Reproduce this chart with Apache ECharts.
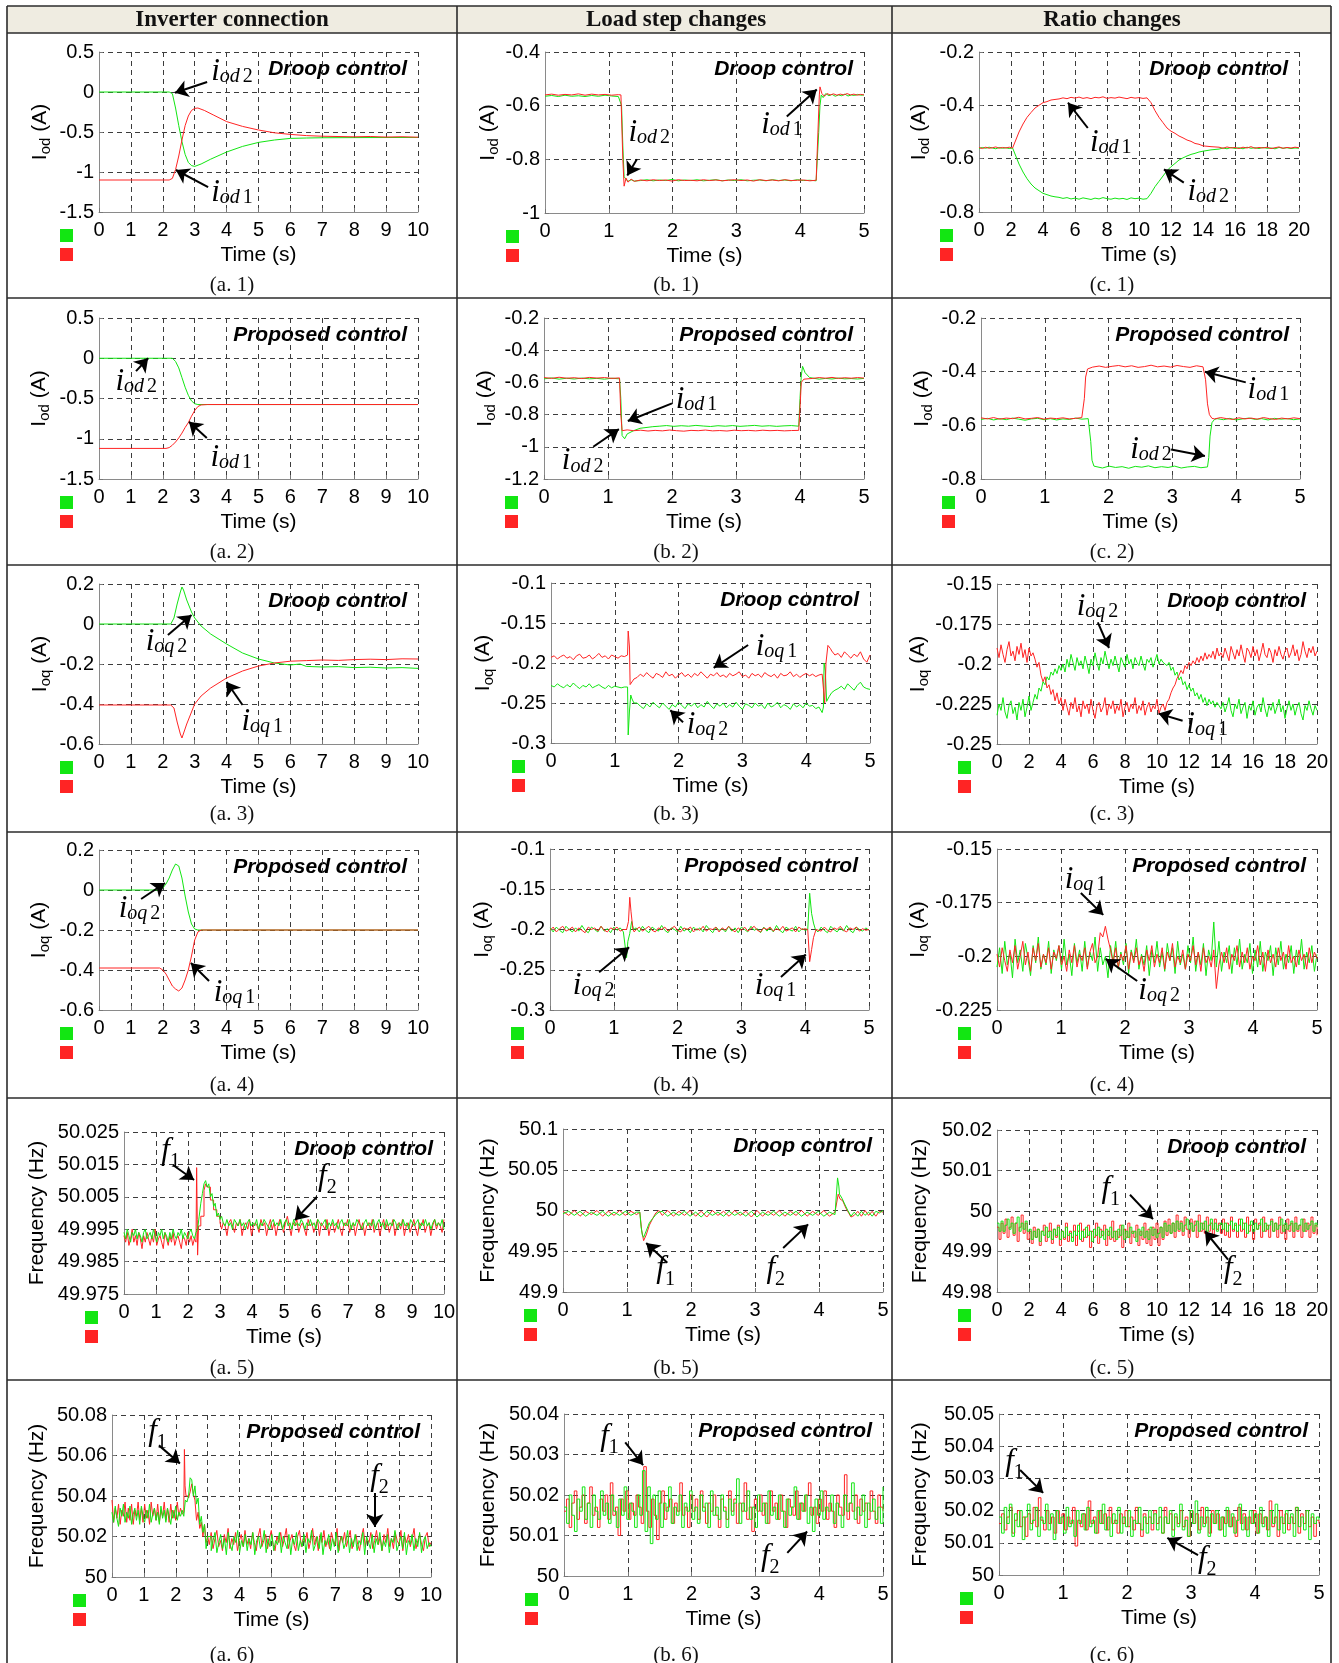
<!DOCTYPE html>
<html>
<head>
<meta charset="utf-8">
<script src="https://cdn.jsdelivr.net/npm/echarts@6/dist/echarts.min.js"></script>
<style>
html,body{margin:0;padding:0;background:#fff}
#chart{width:1339px;height:1663px}
</style>
</head>
<body>
<div id="chart"></div>
<script>
// Spread a run of sampled values evenly over [t0, t1] seconds.
function span(t0, t1, vals) {
  const n = vals.length;
  return vals.map((v, i) => [+(t0 + (t1 - t0) * i / (n - 1)).toFixed(4), v]);
}

// ---------- column / row headings ----------
const COLUMN_TITLES = ['Inverter connection', 'Load step changes', 'Ratio changes'];
const CAPTIONS = [
  ['(a. 1)', '(b. 1)', '(c. 1)'], ['(a. 2)', '(b. 2)', '(c. 2)'], ['(a. 3)', '(b. 3)', '(c. 3)'],
  ['(a. 4)', '(b. 4)', '(c. 4)'], ['(a. 5)', '(b. 5)', '(c. 5)'], ['(a. 6)', '(b. 6)', '(c. 6)']
];

// ---------- axis scales: [min, max, interval] ----------
const X_10 = [0, 10, 1], X_5 = [0, 5, 1], X_20 = [0, 20, 2];
const Y_A1 = [-1.5, 0.5, 0.5], Y_B1 = [-1, -0.4, 0.2], Y_C1 = [-0.8, -0.2, 0.2];
const Y_A2 = [-1.5, 0.5, 0.5], Y_B2 = [-1.2, -0.2, 0.2], Y_C2 = [-0.8, -0.2, 0.2];
const Y_A3 = [-0.6, 0.2, 0.2], Y_B3 = [-0.3, -0.1, 0.05], Y_C3 = [-0.25, -0.15, 0.025];
const Y_A4 = [-0.6, 0.2, 0.2], Y_B4 = [-0.3, -0.1, 0.05], Y_C4 = [-0.225, -0.15, 0.025];
const Y_A5 = [49.975, 50.025, 0.01], Y_B5 = [49.9, 50.1, 0.05], Y_C5 = [49.98, 50.02, 0.01];
const Y_A6 = [50, 50.08, 0.02], Y_B6 = [50, 50.04, 0.01], Y_C6 = [50, 50.05, 0.01];

// ---------- (a.1) inverter connection, droop, i_od ----------
const A1_IOD2 = [[0,0],[1,0],[2.2,0],[2.3,-0.02],[2.4,-0.2],[2.5,-0.42],[2.6,-0.62],[2.7,-0.78],[2.8,-0.88],[2.9,-0.92],[3.0,-0.93],[3.2,-0.9],[3.5,-0.84],[4,-0.75],[4.5,-0.68],[5,-0.63],[5.5,-0.6],[6,-0.58],[6.5,-0.575],[7,-0.572],[8,-0.57],[9,-0.569],[10,-0.568]];
const A1_IOD1 = [[0,-1.1],[2.2,-1.1],[2.3,-1.08],[2.4,-0.97],[2.5,-0.8],[2.6,-0.6],[2.7,-0.42],[2.8,-0.3],[2.9,-0.23],[3.0,-0.205],[3.1,-0.2],[3.3,-0.23],[3.6,-0.29],[4,-0.37],[4.5,-0.43],[5,-0.475],[5.5,-0.51],[6,-0.53],[6.5,-0.545],[7,-0.553],[8,-0.56],[8.5,-0.556],[9,-0.563],[9.5,-0.559],[10,-0.565]];
// ---------- (b.1) load steps, droop, i_od ----------
const B1_IOD2 = [...span(0,1.15,[-.565,-.562,-.566,-.561,-.565,-.563,-.566,-.562,-.565,-.561,-.564,-.566]),[1.18,-.565],[1.2,-.6],[1.22,-.75],[1.24,-.865],[1.27,-.872],[1.3,-.882],[1.35,-.876],[1.4,-.881],...span(1.5,4.25,[-.879,-.876,-.88,-.877,-.879,-.875,-.88,-.877,-.879,-.876,-.88,-.878,-.876,-.88,-.877,-.879,-.876,-.88,-.878,-.877,-.88,-.876,-.879,-.877,-.88,-.876,-.879,-.878,-.88]),[4.28,-.878],[4.29,-.7],[4.31,-.6],[4.33,-.56],[4.36,-.57],[4.4,-.555],...span(4.45,5,[-.563,-.558,-.565,-.56,-.563,-.557,-.564,-.56,-.562,-.558,-.561,-.56])];
const B1_IOD1 = [...span(0,1.15,[-.56,-.557,-.561,-.558,-.56,-.556,-.561,-.557,-.56,-.558,-.561,-.559]),[1.19,-.56],[1.22,-.8],[1.24,-.9],[1.27,-.87],[1.3,-.885],[1.35,-.874],[1.4,-.882],...span(1.5,4.25,[-.877,-.88,-.876,-.879,-.877,-.881,-.876,-.879,-.878,-.88,-.876,-.879,-.877,-.88,-.878,-.876,-.879,-.877,-.881,-.876,-.879,-.877,-.88,-.876,-.879,-.878,-.877,-.88,-.878]),[4.28,-.879],[4.3,-.56],[4.31,-.53],[4.34,-.555],[4.38,-.565],[4.42,-.555],...span(4.47,5,[-.56,-.556,-.561,-.557,-.56,-.555,-.56,-.557,-.561,-.558,-.56])];
// ---------- (c.1) ratio changes, droop, i_od ----------
const C1_IOD2 = [...span(0,2.1,[-.562,-.558,-.561,-.557,-.56,-.563,-.558,-.561,-.559,-.562,-.56]),[2.3,-.59],[2.5,-.62],[2.75,-.65],[3,-.675],[3.25,-.695],[3.5,-.71],[3.75,-.72],[4,-.73],[4.25,-.735],[4.5,-.74],[4.75,-.743],...span(5,10.5,[-.745,-.749,-.746,-.751,-.748,-.752,-.747,-.75,-.753,-.748,-.751,-.746,-.75,-.752,-.748,-.751,-.749,-.753,-.747,-.75,-.748,-.752,-.75]),[10.75,-.73],[11,-.705],[11.25,-.685],[11.5,-.665],[11.75,-.645],[12,-.63],[12.25,-.618],[12.5,-.605],[12.75,-.597],[13,-.59],[13.25,-.584],[13.5,-.58],[13.75,-.575],[14,-.572],[14.5,-.567],...span(15,20,[-.564,-.56,-.563,-.558,-.562,-.559,-.563,-.557,-.561,-.559,-.562,-.558,-.561,-.56,-.563,-.558,-.561,-.559,-.562,-.56,-.561])];
const C1_IOD1 = [...span(0,2.1,[-.558,-.562,-.557,-.561,-.559,-.556,-.561,-.558,-.56,-.557,-.56]),[2.3,-.53],[2.5,-.5],[2.75,-.47],[3,-.445],[3.25,-.427],[3.5,-.41],[3.75,-.4],[4,-.39],[4.25,-.386],[4.5,-.38],[4.75,-.378],...span(5,10.5,[-.376,-.372,-.375,-.37,-.373,-.369,-.374,-.371,-.375,-.37,-.372,-.368,-.374,-.371,-.373,-.369,-.372,-.375,-.37,-.373,-.371,-.374,-.372]),[10.75,-.39],[11,-.42],[11.25,-.445],[11.5,-.465],[11.75,-.485],[12,-.497],[12.25,-.505],[12.5,-.515],[12.75,-.522],[13,-.53],[13.25,-.535],[13.5,-.543],[13.75,-.546],[14,-.552],[14.5,-.555],...span(15,20,[-.557,-.561,-.556,-.56,-.558,-.562,-.557,-.56,-.555,-.561,-.558,-.56,-.557,-.562,-.559,-.556,-.561,-.558,-.56,-.557,-.559])];

// ---------- (a.2) inverter connection, proposed, i_od ----------
const A2_IOD2 = [[0,0],[1,0],[2.3,0],[2.4,-0.04],[2.5,-0.12],[2.6,-0.24],[2.7,-0.36],[2.8,-0.46],[2.9,-0.53],[3.0,-0.565],[3.1,-0.575],[5,-0.575],[10,-0.575]];
const A2_IOD1 = [[0,-1.12],[2.1,-1.12],[2.2,-1.11],[2.3,-1.08],[2.4,-1.04],[2.5,-0.99],[2.6,-0.93],[2.7,-0.86],[2.8,-0.8],[2.9,-0.72],[3.0,-0.65],[3.1,-0.6],[3.2,-0.58],[3.4,-0.575],[10,-0.575]];
// ---------- (b.2) load steps, proposed, i_od ----------
const B2_IOD2 = [...span(0,1.18,[-.578,-.572,-.58,-.574,-.579,-.573,-.578,-.575,-.58,-.574,-.578]),[1.2,-.7],[1.22,-.93],[1.26,-.95],[1.3,-.92],[1.4,-.9],[1.5,-.885],[1.7,-.875],...span(1.8,3.98,[-.872,-.868,-.873,-.869,-.872,-.867,-.871,-.874,-.869,-.872,-.868,-.873,-.87,-.867,-.872,-.869,-.873,-.87,-.868,-.872]),[4.0,-.7],[4.02,-.56],[4.04,-.5],[4.08,-.54],[4.15,-.57],...span(4.3,5,[-.58,-.575,-.579,-.573,-.578,-.576,-.579,-.575])];
const B2_IOD1 = [...span(0,1.18,[-.57,-.575,-.568,-.574,-.571,-.576,-.569,-.573,-.57,-.575,-.572]),[1.2,-.8],[1.22,-.9],[1.3,-.895],...span(1.4,3.98,[-.9,-.897,-.902,-.898,-.901,-.896,-.9,-.903,-.898,-.9,-.896,-.901,-.899,-.902,-.897,-.9,-.898,-.901,-.897,-.9,-.898,-.901,-.899,-.898]),[4.0,-.76],[4.02,-.6],[4.06,-.58],...span(4.2,5,[-.575,-.57,-.574,-.569,-.575,-.571,-.574,-.57,-.573])];
// ---------- (c.2) ratio changes, proposed, i_od ----------
const C2_IOD2 = [...span(0,1.68,[-.578,-.574,-.58,-.575,-.579,-.573,-.577,-.581,-.576,-.574,-.579,-.575,-.58,-.576,-.578,-.573,-.577,-.575]),[1.7,-.577],[1.72,-.66],[1.74,-.73],[1.77,-.752],...span(1.8,3.55,[-.755,-.759,-.752,-.757,-.754,-.76,-.753,-.756,-.751,-.758,-.754,-.757,-.752,-.759,-.755,-.753,-.758,-.755]),[3.57,-.72],[3.59,-.64],[3.62,-.59],[3.66,-.578],...span(3.7,5,[-.575,-.579,-.574,-.58,-.576,-.573,-.578,-.575,-.58,-.574,-.577,-.575,-.579,-.576])];
const C2_IOD1 = [...span(0,1.58,[-.572,-.576,-.571,-.577,-.573,-.575,-.57,-.576,-.574,-.571,-.577,-.573,-.575,-.572,-.576,-.574,-.571]),[1.6,-.574],[1.62,-.5],[1.64,-.42],[1.67,-.39],[1.7,-.385],...span(1.75,3.48,[-.383,-.379,-.384,-.38,-.377,-.382,-.378,-.384,-.381,-.376,-.382,-.379,-.383,-.377,-.381,-.384,-.378,-.382]),[3.5,-.38],[3.52,-.43],[3.55,-.52],[3.58,-.56],[3.62,-.574],...span(3.66,5,[-.576,-.571,-.575,-.578,-.572,-.576,-.573,-.577,-.571,-.575,-.578,-.573,-.576,-.572,-.575])];

// ---------- (a.3) inverter connection, droop, i_oq ----------
const A3_IOQ2 = [[0,0],[2.25,0],[2.3,-0.01],[2.35,0.03],[2.45,0.1],[2.55,0.16],[2.6,0.185],[2.65,0.17],[2.75,0.12],[2.9,0.06],[3,0.03],[3.2,-0.01],[3.5,-0.05],[4,-0.1],[4.5,-0.145],[5,-0.175],[5.5,-0.195],[6,-0.205],[6.3,-0.2],[6.5,-0.212],[7,-0.215],[7.5,-0.213],[8,-0.218],[8.5,-0.216],[9,-0.22],[9.5,-0.218],[10,-0.222]];
const A3_IOQ1 = [[0,-0.405],[2.25,-0.405],[2.3,-0.395],[2.35,-0.42],[2.45,-0.49],[2.55,-0.55],[2.6,-0.57],[2.65,-0.56],[2.75,-0.5],[2.9,-0.44],[3,-0.4],[3.2,-0.36],[3.5,-0.32],[4,-0.27],[4.5,-0.235],[5,-0.21],[5.5,-0.195],[6,-0.186],[6.5,-0.183],[7,-0.18],[7.5,-0.182],[8,-0.178],[8.5,-0.176],[9,-0.178],[9.5,-0.174],[10,-0.175]];
// ---------- (b.3) load steps, droop, i_oq ----------
const B3_IOQ2 = [...span(0,1.1,[-.228,-.23,-.226,-.229,-.231,-.227,-.23,-.225,-.229,-.232,-.228,-.23,-.226,-.231,-.229,-.227,-.23,-.232,-.228,-.231,-.229,-.23,-.231]),[1.15,-.23],[1.2,-.23],[1.21,-.29],[1.23,-.26],[1.25,-.24],[1.27,-.245],[1.3,-.25],...span(1.35,4.2,[-.25,-.254,-.257,-.251,-.255,-.249,-.253,-.256,-.25,-.254,-.258,-.252,-.255,-.249,-.253,-.257,-.251,-.254,-.25,-.256,-.252,-.255,-.248,-.253,-.257,-.251,-.254,-.25,-.256,-.252,-.255,-.249,-.254,-.258,-.251,-.253,-.256,-.25,-.254,-.252,-.257,-.25,-.255,-.253,-.249,-.256,-.252,-.254,-.258,-.251,-.255,-.252,-.256,-.25,-.254,-.253,-.257,-.255]),[4.25,-.262],[4.27,-.255],[4.28,-.2],[4.3,-.21],[4.32,-.248],[4.36,-.242],[4.4,-.237],...span(4.45,5,[-.234,-.232,-.229,-.233,-.226,-.23,-.234,-.228,-.224,-.23,-.232,-.233])];
const B3_IOQ1 = [...span(0,1.1,[-.193,-.191,-.195,-.192,-.19,-.194,-.192,-.196,-.191,-.189,-.194,-.193,-.19,-.195,-.192,-.188,-.193,-.191,-.195,-.19,-.192,-.194,-.191]),[1.15,-.192],[1.2,-.19],[1.21,-.16],[1.23,-.18],[1.24,-.227],[1.27,-.226],...span(1.3,4.2,[-.22,-.218,-.214,-.217,-.212,-.216,-.219,-.213,-.215,-.218,-.211,-.216,-.214,-.219,-.215,-.212,-.217,-.214,-.218,-.213,-.216,-.211,-.215,-.219,-.214,-.216,-.212,-.217,-.215,-.218,-.213,-.216,-.214,-.211,-.217,-.215,-.219,-.213,-.216,-.214,-.218,-.212,-.215,-.217,-.214,-.219,-.213,-.216,-.215,-.211,-.217,-.214,-.218,-.215,-.213,-.216,-.214,-.217,-.215]),[4.25,-.214],[4.28,-.212],[4.29,-.25],[4.31,-.2],[4.34,-.178],[4.38,-.182],...span(4.4,5,[-.185,-.19,-.188,-.193,-.186,-.19,-.194,-.189,-.192,-.186,-.195,-.199,-.19])];
// ---------- (c.3) ratio changes, droop, i_oq ----------
const C3_IOQ2 = [...span(0,2.25,[-.232,-.225,-.229,-.221,-.23,-.234,-.226,-.223,-.231,-.227,-.235,-.224,-.229,-.222,-.233,-.227,-.22,-.229,-.224]),...span(2.375,4,[-.219,-.222,-.215,-.217,-.211,-.213,-.208,-.21,-.205,-.207,-.203,-.206,-.201,-.204]),...span(4.125,10.375,[-.2,-.205,-.197,-.202,-.194,-.199,-.204,-.196,-.201,-.198,-.203,-.195,-.2,-.206,-.197,-.201,-.193,-.199,-.204,-.196,-.2,-.192,-.198,-.203,-.197,-.201,-.195,-.2,-.205,-.196,-.199,-.202,-.194,-.2,-.197,-.203,-.196,-.199,-.201,-.195,-.2,-.204,-.197,-.199,-.196,-.202,-.198,-.194,-.2,-.197,-.199]),...span(10.5,12.125,[-.198,-.201,-.199,-.204,-.202,-.207,-.205,-.21,-.208,-.213,-.211,-.216,-.213,-.217]),...span(12.25,14,[-.215,-.22,-.218,-.222,-.219,-.224,-.221,-.226,-.222,-.225,-.223,-.227,-.224,-.226,-.228]),...span(14.125,20,[-.224,-.23,-.226,-.221,-.229,-.233,-.225,-.228,-.222,-.231,-.227,-.224,-.234,-.226,-.229,-.223,-.232,-.227,-.225,-.23,-.221,-.228,-.233,-.226,-.229,-.224,-.231,-.227,-.222,-.23,-.226,-.234,-.228,-.223,-.229,-.225,-.232,-.227,-.224,-.231,-.235,-.226,-.229,-.223,-.228,-.232,-.226,-.229])];
const C3_IOQ1 = [...span(0,2.25,[-.19,-.196,-.188,-.194,-.199,-.191,-.186,-.195,-.192,-.198,-.189,-.194,-.187,-.196,-.191,-.199,-.19,-.195,-.193]),...span(2.375,4,[-.197,-.202,-.199,-.207,-.211,-.208,-.215,-.213,-.219,-.216,-.223,-.218,-.225,-.221]),...span(4.125,10.375,[-.229,-.222,-.227,-.232,-.224,-.228,-.221,-.23,-.226,-.233,-.223,-.228,-.225,-.231,-.222,-.229,-.234,-.226,-.224,-.23,-.227,-.221,-.232,-.225,-.228,-.223,-.231,-.226,-.229,-.222,-.233,-.227,-.224,-.23,-.225,-.228,-.221,-.231,-.226,-.229,-.223,-.232,-.227,-.224,-.23,-.226,-.228,-.222,-.231,-.227,-.225]),...span(10.5,12.125,[-.229,-.224,-.222,-.218,-.215,-.213,-.209,-.207,-.204,-.206,-.201,-.203,-.199,-.201]),...span(12.25,14,[-.198,-.2,-.196,-.199,-.195,-.198,-.193,-.197,-.194,-.196,-.192,-.197,-.19,-.195,-.193]),...span(14.125,20,[-.196,-.19,-.194,-.198,-.189,-.193,-.197,-.191,-.195,-.188,-.194,-.199,-.19,-.192,-.196,-.189,-.195,-.191,-.198,-.193,-.187,-.194,-.196,-.19,-.193,-.199,-.191,-.195,-.189,-.194,-.197,-.192,-.19,-.196,-.193,-.188,-.195,-.191,-.198,-.194,-.186,-.192,-.196,-.19,-.193,-.189,-.195,-.192])];

// ---------- (a.4) inverter connection, proposed, i_oq ----------
const A4_IOQ2 = [[0,0],[1.9,0],[2.0,0.01],[2.1,0.03],[2.2,0.06],[2.3,0.1],[2.4,0.13],[2.45,0.135],[2.5,0.12],[2.6,0.06],[2.7,-0.03],[2.8,-0.11],[2.9,-0.17],[3.0,-0.195],[3.1,-0.2],[6,-0.2],[10,-0.2]];
const A4_IOQ1 = [[0,-0.39],[1.9,-0.39],[2.0,-0.4],[2.1,-0.42],[2.2,-0.45],[2.3,-0.48],[2.4,-0.495],[2.5,-0.505],[2.6,-0.49],[2.7,-0.45],[2.8,-0.4],[2.9,-0.33],[3.0,-0.25],[3.1,-0.21],[3.2,-0.2],[6,-0.2],[10,-0.2]];
// ---------- (b.4) load steps, proposed, i_oq ----------
const B4_IOQ2 = [...span(0,1.15,[-.198,-.203,-.197,-.201,-.204,-.196,-.2,-.203,-.198,-.202,-.195,-.201,-.204,-.197,-.2,-.203,-.196,-.202,-.199,-.204,-.197,-.201,-.198,-.203]),[1.18,-.205],[1.2,-.235],[1.22,-.215],[1.25,-.205],[1.28,-.19],[1.31,-.2],...span(1.35,4,[-.198,-.203,-.196,-.201,-.204,-.197,-.2,-.202,-.195,-.201,-.204,-.198,-.2,-.203,-.196,-.202,-.199,-.204,-.197,-.201,-.198,-.203,-.195,-.2,-.204,-.197,-.201,-.199,-.203,-.196,-.202,-.198,-.204,-.197,-.2,-.203,-.196,-.201,-.199,-.204,-.197,-.202,-.198,-.203,-.195,-.201,-.204,-.197,-.2,-.202,-.196,-.203,-.199,-.201]),[4.04,-.2],[4.07,-.155],[4.1,-.18],[4.13,-.192],[4.16,-.2],...span(4.2,5,[-.203,-.197,-.201,-.204,-.196,-.2,-.203,-.198,-.202,-.195,-.201,-.204,-.197,-.2,-.202,-.198,-.201])];
const B4_IOQ1 = [...span(0,1.15,[-.201,-.197,-.203,-.199,-.196,-.202,-.2,-.197,-.203,-.198,-.201,-.204,-.197,-.2,-.198,-.202,-.196,-.201,-.203,-.198,-.2,-.197,-.202,-.2]),[1.2,-.2],[1.23,-.19],[1.25,-.16],[1.27,-.178],[1.3,-.2],[1.32,-.203],...span(1.35,4,[-.2,-.197,-.202,-.199,-.196,-.201,-.203,-.198,-.2,-.197,-.202,-.199,-.196,-.201,-.203,-.198,-.2,-.197,-.203,-.199,-.201,-.196,-.202,-.199,-.2,-.197,-.203,-.198,-.201,-.196,-.2,-.203,-.198,-.201,-.197,-.202,-.199,-.196,-.201,-.203,-.198,-.2,-.197,-.202,-.199,-.201,-.196,-.202,-.2,-.198,-.203,-.197,-.2,-.199]),[4.04,-.2],[4.07,-.24],[4.1,-.225],[4.13,-.21],[4.17,-.2],...span(4.2,5,[-.198,-.202,-.197,-.201,-.203,-.198,-.2,-.196,-.201,-.203,-.198,-.2,-.197,-.202,-.199,-.201,-.2])];
// ---------- (c.4) ratio changes, proposed, i_oq ----------
const C4_IOQ2 = span(0,5,[-.205,-.196,-.208,-.193,-.204,-.198,-.21,-.192,-.203,-.197,-.207,-.194,-.201,-.209,-.195,-.203,-.191,-.206,-.199,-.204,-.193,-.208,-.197,-.202,-.195,-.206,-.192,-.204,-.199,-.209,-.194,-.203,-.197,-.207,-.193,-.205,-.198,-.202,-.191,-.207,-.196,-.204,-.2,-.21,-.195,-.203,-.193,-.206,-.198,-.204,-.194,-.208,-.197,-.202,-.192,-.206,-.199,-.204,-.195,-.209,-.197,-.203,-.193,-.205,-.198,-.207,-.194,-.202,-.196,-.208,-.193,-.204,-.199,-.206,-.195,-.203,-.191,-.207,-.198,-.204,-.194,-.209,-.197,-.202,-.184,-.205,-.193,-.207,-.198,-.203,-.195,-.208,-.196,-.204,-.192,-.206,-.199,-.203,-.194,-.208,-.197,-.205,-.193,-.207,-.198,-.202,-.195,-.209,-.196,-.204,-.193,-.206,-.199,-.203,-.195,-.208,-.197,-.204,-.192,-.206,-.198,-.203,-.195,-.207,-.199]);
const C4_IOQ1 = span(0,5,[-.199,-.205,-.196,-.202,-.207,-.197,-.203,-.195,-.206,-.2,-.193,-.204,-.198,-.207,-.196,-.202,-.194,-.205,-.199,-.203,-.196,-.206,-.198,-.201,-.195,-.204,-.2,-.207,-.197,-.203,-.195,-.205,-.199,-.202,-.196,-.206,-.198,-.194,-.203,-.2,-.189,-.191,-.186,-.192,-.197,-.203,-.196,-.205,-.199,-.202,-.195,-.206,-.198,-.203,-.196,-.204,-.2,-.207,-.197,-.202,-.195,-.205,-.199,-.203,-.196,-.206,-.198,-.202,-.194,-.205,-.2,-.203,-.197,-.206,-.199,-.202,-.195,-.204,-.198,-.207,-.196,-.203,-.2,-.205,-.197,-.215,-.204,-.198,-.203,-.196,-.206,-.199,-.202,-.195,-.205,-.198,-.203,-.196,-.206,-.2,-.202,-.195,-.204,-.198,-.207,-.197,-.203,-.199,-.205,-.196,-.202,-.198,-.206,-.195,-.203,-.2,-.205,-.197,-.202,-.199,-.206,-.196,-.203,-.198,-.201]);

// ---------- (a.5) inverter connection, droop, frequency ----------
const A5_F2 = [...span(0,2.25,[49.994,49.992,49.995,49.993,49.991,49.994,49.993,49.995,49.992,49.994,49.993,49.991,49.994,49.995,49.992,49.993,49.994,49.992,49.995,49.993,49.991,49.994,49.993,49.995,49.992,49.994,49.993,49.991,49.994,49.992,49.995,49.993,49.992,49.994,49.993,49.995,49.992,49.994,49.993,49.992,49.994,49.995,49.993,49.992,49.994]),[2.3,49.995],[2.35,49.999],[2.4,50.003],[2.45,50.006],[2.5,50.009],[2.55,50.01],[2.6,50.008],[2.65,50.009],[2.7,50.005],[2.75,50.006],[2.8,50.002],[2.85,50.003],[2.9,49.999],[2.95,50.0],[3.0,49.998],[3.05,49.999],...span(3.1,10,[49.997,49.996,49.998,49.996,49.997,49.995,49.998,49.997,49.996,49.998,49.996,49.997,49.995,49.997,49.998,49.996,49.997,49.996,49.998,49.995,49.997,49.996,49.998,49.997,49.996,49.995,49.997,49.998,49.996,49.997,49.996,49.998,49.995,49.997,49.998,49.996,49.997,49.995,49.998,49.996,49.997,49.996,49.998,49.997,49.995,49.997,49.996,49.998,49.996,49.997,49.995,49.998,49.997,49.996,49.997,49.998,49.995,49.997,49.996,49.998,49.996,49.997,49.995,49.997,49.998,49.996,49.997,49.996,49.998,49.995,49.997,49.996,49.998,49.997,49.996,49.995,49.997,49.998,49.996,49.997,49.996,49.998,49.995,49.997,49.998,49.996,49.997,49.995,49.998,49.996,49.997,49.996,49.998,49.997,49.995,49.997,49.996,49.998,49.996,49.997,49.995,49.998,49.997,49.996,49.997,49.998,49.995,49.997,49.996,49.998,49.996,49.997,49.995,49.997,49.998,49.996,49.997,49.996,49.998,49.995])];
const A5_F1 = [...span(0,2.2,[49.993,49.991,49.994,49.99,49.992,49.995,49.991,49.993,49.99,49.994,49.992,49.989,49.993,49.991,49.994,49.992,49.99,49.993,49.991,49.995,49.99,49.992,49.993,49.991,49.989,49.994,49.992,49.99,49.993,49.991,49.994,49.99,49.992,49.993,49.991,49.989,49.993,49.992,49.99,49.994,49.991,49.993,49.99,49.992]),[2.25,49.991],[2.27,50.014],[2.29,49.998],[2.3,49.987],[2.33,49.996],[2.4,49.999],[2.5,50.007],[2.55,50.009],[2.6,50.008],[2.7,50.004],[2.8,50.001],[2.9,49.999],[3.0,49.997],[3.05,49.995],...span(3.1,10,[49.997,49.996,49.993,49.997,49.998,49.996,49.994,49.997,49.996,49.998,49.993,49.996,49.997,49.995,49.998,49.993,49.996,49.997,49.996,49.994,49.998,49.996,49.997,49.993,49.996,49.998,49.995,49.997,49.993,49.996,49.998,49.996,49.994,49.997,49.999,49.996,49.993,49.997,49.996,49.998,49.994,49.996,49.997,49.995,49.993,49.998,49.996,49.997,49.994,49.996,49.998,49.993,49.997,49.996,49.995,49.998,49.993,49.996,49.997,49.994,49.996,49.998,49.995,49.993,49.997,49.996,49.998,49.994,49.996,49.997,49.993,49.996,49.998,49.995,49.997,49.993,49.996,49.997,49.995,49.998,49.994,49.996,49.997,49.993,49.996,49.998,49.995,49.997,49.994,49.996,49.998,49.993,49.996,49.997,49.995,49.998,49.993,49.996,49.997,49.994,49.996,49.998,49.995,49.993,49.997,49.996,49.998,49.994,49.996,49.997,49.993,49.996,49.998,49.995,49.997,49.996,49.994,49.998])];
// ---------- (b.5) load steps, droop, frequency ----------
const B5_F2 = [...span(0,1.15,[49.996,49.999,49.994,49.999,49.993,49.998,49.994,49.999,49.993,49.998,49.994,49.999,49.994,49.998]),[1.2,49.998],[1.22,49.98],[1.24,49.97],[1.26,49.967],[1.3,49.975],[1.35,49.985],[1.4,49.99],[1.45,49.995],[1.5,49.998],...span(1.55,4.25,[49.999,49.993,49.998,49.994,49.999,49.993,49.998,49.992,49.999,49.994,49.998,49.993,49.999,49.994,49.998,49.993,49.999,49.992,49.998,49.994,49.999,49.993,49.998,49.994,49.999,49.993,49.998,49.994,49.999,49.993,49.998,49.995]),[4.28,49.996],[4.29,50.04],[4.31,50.03],[4.32,50.02],[4.36,50.015],[4.4,50.008],[4.45,50.0],[4.5,49.993],...span(4.55,5,[49.998,49.993,49.999,49.994,49.998,49.993,49.999,49.997,50.0])];
const B5_F1 = [...span(0,1.15,[49.999,49.994,50.0,49.993,49.999,49.995,50.0,49.993,49.999,49.994,50.0,49.994,49.999,49.995]),[1.2,49.998],[1.23,49.975],[1.26,49.963],[1.3,49.97],[1.35,49.982],[1.4,49.99],[1.45,49.997],[1.5,50.0],...span(1.55,4.25,[49.994,50.0,49.993,49.999,49.994,50.0,49.993,49.999,49.992,50.0,49.994,49.999,49.993,50.0,49.994,49.999,49.992,50.0,49.993,49.999,49.994,50.0,49.993,49.999,49.994,50.0,49.993,49.999,49.994,50.0,49.993,49.998]),[4.28,49.997],[4.3,50.02],[4.33,50.014],[4.37,50.012],[4.42,50.003],[4.47,49.996],[4.5,49.992],...span(4.55,5,[49.994,49.999,49.993,50.0,49.994,49.999,49.993,49.999,49.998])];
// ---------- (c.5) ratio changes, droop, frequency ----------
const C5_F2 = span(0,20,[49.997,49.995,49.9975,49.995,49.9965,49.998,49.9955,49.997,49.9945,49.997,49.9985,49.995,49.997,49.9955,49.9975,49.995,49.9955,49.993,49.995,49.9935,49.9955,49.9925,49.995,49.994,49.996,49.9935,49.995,49.993,49.9955,49.994,49.996,49.993,49.995,49.9935,49.996,49.994,49.9945,49.9925,49.995,49.994,49.9965,49.993,49.995,49.9935,49.996,49.994,49.995,49.9925,49.9955,49.994,49.996,49.9935,49.995,49.993,49.9955,49.994,49.996,49.9935,49.995,49.993,49.9955,49.994,49.9965,49.993,49.995,49.9935,49.996,49.9945,49.995,49.9925,49.9955,49.994,49.996,49.9935,49.995,49.993,49.996,49.994,49.9955,49.9935,49.9945,49.996,49.9935,49.997,49.995,49.9965,49.9945,49.997,49.995,49.9975,49.9955,49.997,49.995,49.9965,49.998,49.9955,49.997,49.995,49.9965,49.9975,49.995,49.997,49.9955,49.9975,49.995,49.9965,49.998,49.9955,49.997,49.995,49.9965,49.997,49.9955,49.997,49.995,49.9965,49.9975,49.9955,49.997,49.995,49.9965,49.998,49.9955,49.997,49.9945,49.9965,49.9975,49.995,49.997,49.9955,49.9965,49.998,49.995,49.997,49.9955,49.9965,49.9975,49.995,49.997,49.9955,49.9965,49.998,49.995,49.997,49.9955,49.9965,49.9975,49.995,49.997,49.9955,49.9965,49.998,49.995,49.997,49.9955,49.9965,49.9975,49.995,49.997,49.996]);
const C5_F1 = span(0,20,[49.996,49.993,49.997,49.9945,49.998,49.9935,49.996,49.9985,49.994,49.997,49.9925,49.996,49.999,49.9945,49.997,49.993,49.995,49.992,49.996,49.9935,49.9955,49.9915,49.995,49.9965,49.9925,49.995,49.997,49.992,49.9955,49.9935,49.9965,49.9915,49.995,49.993,49.997,49.9925,49.995,49.9935,49.9965,49.9915,49.995,49.997,49.9925,49.9955,49.9935,49.9965,49.991,49.995,49.9935,49.997,49.992,49.9955,49.994,49.9965,49.9915,49.995,49.993,49.9975,49.9925,49.995,49.9935,49.9965,49.991,49.9955,49.9935,49.997,49.992,49.995,49.9935,49.9965,49.9915,49.995,49.993,49.997,49.992,49.9955,49.9915,49.996,49.993,49.997,49.9915,49.996,49.993,49.9975,49.994,49.998,49.9945,49.997,49.9935,49.999,49.995,49.9975,49.994,49.9985,49.9955,49.9935,49.998,49.995,49.9975,49.9935,49.999,49.995,49.997,49.9945,49.9985,49.995,49.997,49.9935,49.998,49.9955,49.997,49.9945,49.998,49.994,49.997,49.9935,49.9985,49.995,49.9965,49.9935,49.998,49.995,49.997,49.9935,49.9985,49.995,49.9965,49.993,49.998,49.9955,49.997,49.9935,49.9985,49.995,49.9965,49.9935,49.998,49.995,49.997,49.9935,49.9985,49.9945,49.9965,49.993,49.998,49.995,49.997,49.9935,49.9985,49.995,49.9965,49.9935,49.998,49.995,49.997,49.9935,49.9985,49.9945,49.9965,49.994]);

// ---------- (a.6) inverter connection, proposed, frequency ----------
const A6_F2 = [...span(0,2.2,[50.032,50.027,50.035,50.029,50.025,50.034,50.03,50.036,50.027,50.032,50.029,50.035,50.026,50.031,50.034,50.028,50.033,50.026,50.035,50.03,50.027,50.033,50.029,50.036,50.027,50.031,50.034,50.028,50.032,50.026,50.035,50.029,50.033,50.027,50.034,50.03,50.026,50.033,50.029,50.035,50.028,50.032,50.03,50.033]),[2.25,50.03],[2.3,50.038],[2.35,50.037],[2.4,50.04],[2.45,50.049],[2.5,50.048],[2.55,50.04],[2.6,50.045],[2.65,50.036],[2.7,50.039],[2.75,50.026],[2.8,50.03],[2.85,50.022],[2.9,50.026],[2.95,50.014],[3.0,50.02],...span(3.05,10,[50.02,50.013,50.018,50.022,50.012,50.017,50.021,50.014,50.019,50.011,50.022,50.016,50.013,50.02,50.017,50.023,50.012,50.018,50.015,50.021,50.013,50.019,50.016,50.022,50.011,50.018,50.02,50.014,50.017,50.023,50.012,50.019,50.015,50.021,50.013,50.018,50.016,50.022,50.012,50.02,50.017,50.014,50.021,50.011,50.019,50.016,50.022,50.013,50.018,50.015,50.021,50.012,50.019,50.017,50.023,50.013,50.016,50.02,50.014,50.022,50.011,50.018,50.016,50.021,50.013,50.019,50.015,50.022,50.012,50.018,50.02,50.014,50.017,50.023,50.012,50.019,50.015,50.021,50.013,50.018,50.016,50.022,50.011,50.02,50.017,50.014,50.021,50.012,50.019,50.016,50.022,50.013,50.018,50.015,50.021,50.012,50.019,50.017,50.023,50.013,50.016,50.02,50.014,50.022,50.011,50.018,50.016,50.021,50.013,50.019,50.015,50.022,50.012,50.018,50.02,50.014,50.017,50.015])];
const A6_F1 = [...span(0,2.2,[50.038,50.027,50.034,50.029,50.036,50.026,50.033,50.03,50.037,50.027,50.034,50.028,50.036,50.026,50.033,50.03,50.037,50.028,50.034,50.027,50.036,50.029,50.033,50.026,50.037,50.03,50.034,50.028,50.036,50.027,50.033,50.03,50.037,50.028,50.034,50.027,50.036,50.029,50.033,50.028,50.037,50.03,50.034,50.031]),[2.25,50.032],[2.27,50.063],[2.29,50.045],[2.32,50.04],[2.4,50.039],[2.45,50.042],[2.5,50.046],[2.55,50.041],[2.6,50.038],[2.65,50.028],[2.7,50.032],[2.75,50.024],[2.8,50.027],[2.85,50.02],[2.9,50.026],[2.95,50.017],[3.0,50.02],...span(3.05,10,[50.016,50.022,50.014,50.019,50.023,50.015,50.018,50.013,50.021,50.017,50.024,50.014,50.019,50.016,50.022,50.013,50.018,50.021,50.015,50.023,50.016,50.019,50.014,50.022,50.017,50.013,50.02,50.024,50.015,50.018,50.021,50.014,50.019,50.023,50.016,50.013,50.02,50.017,50.022,50.015,50.019,50.024,50.014,50.018,50.021,50.016,50.013,50.02,50.023,50.015,50.019,50.017,50.022,50.014,50.018,50.024,50.016,50.02,50.013,50.021,50.017,50.023,50.015,50.019,50.014,50.022,50.018,50.016,50.024,50.013,50.02,50.017,50.022,50.015,50.019,50.023,50.014,50.018,50.021,50.016,50.013,50.02,50.024,50.015,50.019,50.017,50.022,50.014,50.018,50.023,50.016,50.02,50.013,50.021,50.017,50.024,50.015,50.019,50.014,50.022,50.018,50.016,50.023,50.013,50.02,50.017,50.021,50.015,50.019,50.024,50.014,50.018,50.021,50.016,50.013,50.02,50.022,50.015,50.017])];
// ---------- (b.6) load steps, proposed, frequency ----------
const B6_F2 = span(0,5,[50.017,50.013,50.02,50.015,50.011,50.019,50.016,50.022,50.014,50.018,50.012,50.02,50.016,50.014,50.021,50.015,50.018,50.013,50.02,50.016,50.012,50.019,50.015,50.022,50.014,50.018,50.016,50.012,50.02,50.015,50.026,50.011,50.022,50.008,50.02,50.014,50.021,50.012,50.018,50.016,50.022,50.013,50.017,50.015,50.02,50.012,50.018,50.016,50.021,50.014,50.017,50.013,50.02,50.016,50.018,50.012,50.021,50.015,50.017,50.014,50.02,50.016,50.012,50.019,50.015,50.018,50.024,50.013,50.018,50.016,50.021,50.014,50.017,50.012,50.02,50.016,50.018,50.013,50.021,50.015,50.017,50.014,50.02,50.016,50.012,50.019,50.015,50.017,50.022,50.014,50.018,50.016,50.02,50.013,50.017,50.011,50.019,50.015,50.021,50.014,50.017,50.016,50.02,50.013,50.018,50.015,50.012,50.02,50.016,50.018,50.023,50.014,50.017,50.015,50.02,50.012,50.018,50.016,50.019,50.014,50.017,50.013,50.022]);
const B6_F1 = span(0,5,[50.016,50.019,50.012,50.018,50.021,50.014,50.017,50.02,50.013,50.018,50.022,50.015,50.017,50.012,50.019,50.016,50.02,50.014,50.023,50.015,50.017,50.01,50.019,50.016,50.021,50.014,50.018,50.015,50.02,50.017,50.013,50.027,50.016,50.012,50.019,50.015,50.009,50.018,50.021,50.014,50.017,50.019,50.013,50.018,50.016,50.023,50.015,50.017,50.012,50.02,50.016,50.019,50.014,50.021,50.017,50.013,50.018,50.016,50.02,50.015,50.012,50.019,50.017,50.014,50.021,50.016,50.019,50.013,50.018,50.016,50.023,50.014,50.017,50.011,50.019,50.016,50.02,50.015,50.018,50.013,50.021,50.016,50.018,50.014,50.02,50.016,50.012,50.019,50.017,50.015,50.021,50.014,50.018,50.016,50.02,50.023,50.015,50.017,50.013,50.019,50.016,50.021,50.014,50.018,50.016,50.012,50.02,50.017,50.015,50.025,50.014,50.018,50.016,50.02,50.013,50.019,50.016,50.018,50.014,50.021,50.016,50.013,50.02,50.017,50.016]);
// ---------- (c.6) ratio changes, proposed, frequency ----------
const C6_F2 = span(0,5,[50.018,50.013,50.021,50.016,50.022,50.012,50.019,50.015,50.02,50.011,50.018,50.022,50.014,50.017,50.021,50.012,50.018,50.016,50.022,50.014,50.019,50.011,50.02,50.016,50.018,50.013,50.021,50.015,50.017,50.012,50.02,50.016,50.019,50.014,50.021,50.015,50.017,50.013,50.02,50.016,50.022,50.014,50.018,50.012,50.019,50.016,50.021,50.013,50.018,50.015,50.02,50.012,50.017,50.016,50.021,50.014,50.018,50.013,50.02,50.016,50.019,50.014,50.021,50.013,50.018,50.016,50.02,50.012,50.019,50.015,50.022,50.014,50.017,50.012,50.02,50.016,50.023,50.013,50.018,50.015,50.021,50.012,50.019,50.016,50.02,50.014,50.018,50.012,50.021,50.015,50.019,50.013,50.017,50.022,50.014,50.018,50.012,50.02,50.016,50.019,50.013,50.021,50.015,50.018,50.012,50.02,50.016,50.022,50.014,50.018,50.013,50.02,50.016,50.019,50.012,50.021,50.015,50.018,50.014,50.02,50.011,50.019,50.016,50.018,50.017]);
const C6_F1 = span(0,5,[50.016,50.019,50.014,50.018,50.021,50.013,50.017,50.02,50.015,50.018,50.012,50.019,50.016,50.021,50.015,50.024,50.017,50.014,50.02,50.016,50.018,50.013,50.02,50.016,50.019,50.014,50.018,50.016,50.021,50.009,50.017,50.015,50.019,50.014,50.023,50.016,50.018,50.013,50.02,50.016,50.019,50.014,50.021,50.016,50.017,50.013,50.019,50.016,50.02,50.015,50.018,50.014,50.021,50.016,50.012,50.019,50.016,50.018,50.014,50.02,50.016,50.018,50.013,50.021,50.016,50.019,50.014,50.018,50.016,50.02,50.015,50.018,50.012,50.02,50.016,50.019,50.014,50.021,50.016,50.018,50.013,50.02,50.016,50.019,50.014,50.018,50.016,50.02,50.015,50.018,50.012,50.021,50.016,50.019,50.014,50.018,50.016,50.02,50.013,50.019,50.016,50.018,50.014,50.023,50.015,50.018,50.012,50.02,50.016,50.019,50.014,50.018,50.016,50.021,50.013,50.019,50.016,50.02,50.015,50.018,50.012,50.017,50.016]);

// ---------- annotations: label, label anchor, arrow start, arrow tip (data units) ----------
const A1_NOTES = [{sym:'i', sub:'od', n:'2', at:[3.5,0.25], from:[3.39,0.125], to:[2.38,-0.01]}, {sym:'i', sub:'od', n:'1', at:[3.5,-1.26], from:[3.42,-1.19], to:[2.41,-0.975]}];
const B1_NOTES = [{sym:'i', sub:'od', n:'2', at:[1.3,-0.70], from:[1.44,-0.8], to:[1.29,-0.86]}, {sym:'i', sub:'od', n:'1', at:[3.38,-0.672], from:[3.79,-0.64], to:[4.26,-0.54]}];
const C1_NOTES = [{sym:'i', sub:'od', n:'1', at:[6.9,-0.54], from:[6.8,-0.485], to:[5.56,-0.39]}, {sym:'i', sub:'od', n:'2', at:[13.0,-0.725], from:[12.8,-0.69], to:[11.56,-0.64]}];
const A2_NOTES = [{sym:'i', sub:'od', n:'2', at:[0.5,-0.295], from:[1.16,-0.16], to:[1.54,0.0]}, {sym:'i', sub:'od', n:'1', at:[3.48,-1.24], from:[3.38,-0.99], to:[2.82,-0.79]}];
const B2_NOTES = [{sym:'i', sub:'od', n:'1', at:[2.05,-0.71], from:[2.0,-0.73], to:[1.31,-0.84]}, {sym:'i', sub:'od', n:'2', at:[0.27,-1.09], from:[0.77,-1.0], to:[1.17,-0.89]}];
const C2_NOTES = [{sym:'i', sub:'od', n:'1', at:[4.17,-0.468], from:[4.15,-0.44], to:[3.51,-0.40]}, {sym:'i', sub:'od', n:'2', at:[2.33,-0.69], from:[2.98,-0.69], to:[3.51,-0.714]}];
const A3_NOTES = [{sym:'i', sub:'oq', n:'2', at:[1.45,-0.09], from:[2.16,-0.055], to:[2.9,0.045]}, {sym:'i', sub:'oq', n:'1', at:[4.45,-0.49], from:[4.5,-0.405], to:[4.0,-0.29]}];
const B3_NOTES = [{sym:'i', sub:'oq', n:'1', at:[3.2,-0.18], from:[3.09,-0.1775], to:[2.55,-0.206]}, {sym:'i', sub:'oq', n:'2', at:[2.12,-0.2775], from:[2.07,-0.274], to:[1.87,-0.259]}];
const C3_NOTES = [{sym:'i', sub:'oq', n:'2', at:[4.95,-0.164], from:[6.3,-0.174], to:[7.0,-0.19]}, {sym:'i', sub:'oq', n:'1', at:[11.8,-0.238], from:[11.6,-0.2355], to:[10.1,-0.231]}];
const A4_NOTES = [{sym:'i', sub:'oq', n:'2', at:[0.6,-0.095], from:[1.32,-0.045], to:[2.07,0.035]}, {sym:'i', sub:'oq', n:'1', at:[3.58,-0.515], from:[3.45,-0.455], to:[2.88,-0.365]}];
const B4_NOTES = [{sym:'i', sub:'oq', n:'2', at:[0.35,-0.27], from:[0.77,-0.253], to:[1.24,-0.222]}, {sym:'i', sub:'oq', n:'1', at:[3.2,-0.27], from:[3.62,-0.259], to:[4.01,-0.231]}];
const C4_NOTES = [{sym:'i', sub:'oq', n:'1', at:[1.05,-0.1644], from:[1.31,-0.1705], to:[1.66,-0.1807]}, {sym:'i', sub:'oq', n:'2', at:[2.2,-0.216], from:[2.19,-0.2115], to:[1.7,-0.2012]}];
const A5_NOTES = [{sym:'f', n:'1', at:[1.15,50.0192], from:[1.53,50.0148], to:[2.19,50.0102]}, {sym:'f', n:'2', at:[6.05,50.0112], from:[6.03,50.005], to:[5.34,49.9978]}];
const B5_NOTES = [{sym:'f', n:'1', at:[1.45,49.929], from:[1.63,49.936], to:[1.3,49.96]}, {sym:'f', n:'2', at:[3.17,49.929], from:[3.44,49.954], to:[3.83,49.983]}];
const C5_NOTES = [{sym:'f', n:'1', at:[6.5,50.0055], from:[8.31,50.004], to:[9.75,49.998]}, {sym:'f', n:'2', at:[14.15,49.9858], from:[14.44,49.988], to:[13.0,49.995]}];
const A6_NOTES = [{sym:'f', n:'1', at:[1.12,50.0715], from:[1.47,50.065], to:[2.13,50.056]}, {sym:'f', n:'2', at:[8.08,50.0495], from:[8.24,50.0415], to:[8.24,50.0247]}];
const B6_NOTES = [{sym:'f', n:'1', at:[0.56,50.0344], from:[0.96,50.033], to:[1.24,50.0274]}, {sym:'f', n:'2', at:[3.08,50.0048], from:[3.5,50.0057], to:[3.81,50.011]}];
const C6_NOTES = [{sym:'f', n:'1', at:[0.09,50.0352], from:[0.33,50.0326], to:[0.69,50.0255]}, {sym:'f', n:'2', at:[3.1,50.005], from:[3.11,50.0062], to:[2.63,50.0115]}];

// ---------- page layout ----------
const SANS = '"Liberation Sans", Arial, Helvetica, sans-serif';
const SERIF = '"Liberation Serif", "Times New Roman", serif';
const GREEN = '#12e612', RED = '#ff2424';
const COL_X = [7, 457, 892, 1331];
const COL_CENTER = [232, 676, 1112];
const ROW_LINES = [33, 298, 565, 832, 1098, 1380];
const CAPTION_Y = [285, 552, 814, 1085, 1368, 1655];

// Each panel: plot rectangle [left, top, width, height], scales, quantity, curves, notes.
const PANELS = [
  {row:0, col:0, rect:[99,52,319,160],   x:X_10, y:Y_A1, qty:'od', ctrl:'Droop control',    gap:46, g:A1_IOD2, r:A1_IOD1, notes:A1_NOTES},
  {row:0, col:1, rect:[545,52,319,161],  x:X_5,  y:Y_B1, qty:'od', ctrl:'Droop control',    gap:44, g:B1_IOD2, r:B1_IOD1, notes:B1_NOTES},
  {row:0, col:2, rect:[979,52,320,160],  x:X_20, y:Y_C1, qty:'od', ctrl:'Droop control',    gap:47, g:C1_IOD2, r:C1_IOD1, notes:C1_NOTES},
  {row:1, col:0, rect:[99,318,319,161],  x:X_10, y:Y_A2, qty:'od', ctrl:'Proposed control', gap:47, g:A2_IOD2, r:A2_IOD1, notes:A2_NOTES},
  {row:1, col:1, rect:[544,318,320,161], x:X_5,  y:Y_B2, qty:'od', ctrl:'Proposed control', gap:46, g:B2_IOD2, r:B2_IOD1, notes:B2_NOTES},
  {row:1, col:2, rect:[981,318,319,161], x:X_5,  y:Y_C2, qty:'od', ctrl:'Proposed control', gap:46, g:C2_IOD2, r:C2_IOD1, notes:C2_NOTES},
  {row:2, col:0, rect:[99,584,319,160],  x:X_10, y:Y_A3, qty:'oq', ctrl:'Droop control',    gap:46, g:A3_IOQ2, r:A3_IOQ1, notes:A3_NOTES},
  {row:2, col:1, rect:[551,583,319,160], x:X_5,  y:Y_B3, qty:'oq', ctrl:'Droop control',    gap:52, g:B3_IOQ2, r:B3_IOQ1, notes:B3_NOTES},
  {row:2, col:2, rect:[997,584,320,160], x:X_20, y:Y_C3, qty:'oq', ctrl:'Droop control',    gap:66, g:C3_IOQ2, r:C3_IOQ1, notes:C3_NOTES},
  {row:3, col:0, rect:[99,850,319,160],  x:X_10, y:Y_A4, qty:'oq', ctrl:'Proposed control', gap:47, g:A4_IOQ2, r:A4_IOQ1, notes:A4_NOTES},
  {row:3, col:1, rect:[550,849,319,161], x:X_5,  y:Y_B4, qty:'oq', ctrl:'Proposed control', gap:52, g:B4_IOQ2, r:B4_IOQ1, notes:B4_NOTES},
  {row:3, col:2, rect:[997,849,320,161], x:X_5,  y:Y_C4, qty:'oq', ctrl:'Proposed control', gap:65, g:C4_IOQ2, r:C4_IOQ1, notes:C4_NOTES},
  {row:4, col:0, rect:[124,1132,320,162],x:X_10, y:Y_A5, qty:null, ctrl:'Droop control',    gap:76, g:A5_F2, r:A5_F1, notes:A5_NOTES, step:true},
  {row:4, col:1, rect:[563,1129,320,163],x:X_5,  y:Y_B5, qty:null, ctrl:'Droop control',    gap:64, g:B5_F2, r:B5_F1, notes:B5_NOTES},
  {row:4, col:2, rect:[997,1130,320,162],x:X_20, y:Y_C5, qty:null, ctrl:'Droop control',    gap:66, g:C5_F2, r:C5_F1, notes:C5_NOTES, step:true},
  {row:5, col:0, rect:[112,1415,319,162],x:X_10, y:Y_A6, qty:null, ctrl:'Proposed control', gap:64, g:A6_F2, r:A6_F1, notes:A6_NOTES, step:true},
  {row:5, col:1, rect:[564,1414,319,162],x:X_5,  y:Y_B6, qty:null, ctrl:'Proposed control', gap:65, g:B6_F2, r:B6_F1, notes:B6_NOTES, step:true},
  {row:5, col:2, rect:[999,1414,320,161],x:X_5,  y:Y_C6, qty:null, ctrl:'Proposed control', gap:68, g:C6_F2, r:C6_F1, notes:C6_NOTES, step:true}
];

const NOTE_RICH = {
  m:  {fontFamily: SERIF, fontStyle: 'italic', fontSize: 31, color: '#000'},
  s:  {fontFamily: SERIF, fontStyle: 'italic', fontSize: 20, color: '#000', padding: [10, 0, 0, 0]},
  n:  {fontFamily: SERIF, fontSize: 20, color: '#000', padding: [10, 0, 0, 3]},
  fm: {fontFamily: SERIF, fontStyle: 'italic', fontSize: 31, color: '#000'},
  fn: {fontFamily: SERIF, fontSize: 20, color: '#000', padding: [22, 0, 0, 0]}
};
const noteText = n => n.sym === 'i' ? `{m|i}{s|${n.sub}}{n|${n.n}}` : `{fm|f}{fn|${n.n}}`;

const grids = [], xAxes = [], yAxes = [], series = [], legends = [], graphics = [];
const gridLine = {show: true, lineStyle: {color: '#3c3c3c', width: 1, type: [5, 4]}};

PANELS.forEach((p, k) => {
  const [L, T, W, H] = p.rect;
  grids.push({left: L, top: T, width: W, height: H, containLabel: false, outerBoundsMode: 'none'});
  xAxes.push({
    gridIndex: k, type: 'value', min: p.x[0], max: p.x[1], interval: p.x[2],
    name: 'Time (s)', nameLocation: 'middle', nameGap: 33,
    nameTextStyle: {fontFamily: SANS, fontSize: 21, color: '#000'},
    axisLine: {show: true, onZero: false, lineStyle: {color: '#8a8a8a', width: 1}},
    axisTick: {show: true, inside: true, length: 4, lineStyle: {color: '#777'}},
    axisLabel: {fontFamily: SANS, fontSize: 20, color: '#000', margin: 8, hideOverlap: false},
    splitLine: gridLine
  });
  const yName = p.qty ? `{m|I}{s|${p.qty}}{m| (A)}` : 'Frequency (Hz)';
  yAxes.push({
    gridIndex: k, type: 'value', min: p.y[0], max: p.y[1], interval: p.y[2],
    name: yName, nameLocation: 'middle', nameGap: p.gap,
    nameTextStyle: {fontFamily: SANS, fontSize: 21, color: '#000', rich: {
      m: {fontFamily: SANS, fontSize: 21, color: '#000'},
      s: {fontFamily: SANS, fontSize: 15, color: '#000', padding: [11, 0, 0, 0]}
    }},
    axisLine: {show: true, onZero: false, lineStyle: {color: '#8a8a8a', width: 1}},
    axisTick: {show: true, inside: true, length: 4, lineStyle: {color: '#777'}},
    axisLabel: {fontFamily: SANS, fontSize: 20, color: '#000', margin: 5, hideOverlap: false},
    splitLine: gridLine
  });

  const cap = CAPTIONS[p.row][p.col];
  const gName = (p.qty ? 'i' + p.qty + '2 ' : 'f2 ') + cap;
  const rName = (p.qty ? 'i' + p.qty + '1 ' : 'f1 ') + cap;
  const base = {
    type: 'line', xAxisIndex: k, yAxisIndex: k, showSymbol: false, symbol: 'none',
    animation: false, silent: true, step: p.step ? 'end' : false
  };
  const gSeries = Object.assign({}, base, {name: gName, data: p.g, color: GREEN, lineStyle: {color: GREEN, width: 1}});
  const rSeries = Object.assign({}, base, {name: rName, data: p.r, color: RED, lineStyle: {color: RED, width: 1}});
  const top = p.qty ? rSeries : gSeries;
  top.markLine = {
    silent: true, animation: false, symbol: ['none', 'arrow'], symbolSize: 13,
    lineStyle: {color: '#000', width: 2, type: 'solid'}, label: {show: false},
    emphasis: {disabled: true},
    data: p.notes.map(n => [{coord: n.from}, {coord: n.to}])
  };
  top.markPoint = {
    silent: true, animation: false, symbol: 'circle', symbolSize: 1,
    itemStyle: {color: 'rgba(0,0,0,0)'},
    label: {show: true, position: 'right', distance: 0, rich: NOTE_RICH},
    data: p.notes.map(n => ({coord: n.at, label: {formatter: noteText(n)}}))
  };
  if (p.qty) series.push(gSeries, rSeries); else series.push(rSeries, gSeries);

  legends.push({
    left: L - 39, top: T + H + 17, orient: 'vertical', padding: 0, itemGap: 6,
    itemWidth: 13, itemHeight: 13, icon: 'rect', selectedMode: false,
    data: [gName, rName], formatter: () => '', textStyle: {fontSize: 10}
  });

  graphics.push({
    type: 'text', x: L + W - 11, y: T + 17, silent: true,
    style: {text: p.ctrl, font: `italic bold 21px ${SANS}`, fill: '#000', align: 'right', verticalAlign: 'middle'}
  });
  graphics.push({
    type: 'text', x: COL_CENTER[p.col], y: CAPTION_Y[p.row], silent: true,
    style: {text: cap, font: `21px ${SERIF}`, fill: '#111', align: 'center', verticalAlign: 'middle'}
  });
});

// table frame: header band, column titles and ruling
graphics.push({type: 'rect', shape: {x: COL_X[0], y: 6, width: COL_X[3] - COL_X[0], height: 27}, style: {fill: '#efece1'}, z: -1, silent: true});
COLUMN_TITLES.forEach((t, i) => graphics.push({
  type: 'text', x: COL_CENTER[i], y: 20, silent: true,
  style: {text: t, font: `bold 23px ${SERIF}`, fill: '#111', align: 'center', verticalAlign: 'middle'}
}));
const RULE = {stroke: '#2b2b2b', lineWidth: 1.6};
graphics.push({type: 'line', shape: {x1: COL_X[0], y1: 6, x2: COL_X[3], y2: 6}, style: RULE, silent: true});
ROW_LINES.forEach(y => graphics.push({type: 'line', shape: {x1: COL_X[0], y1: y, x2: COL_X[3], y2: y}, style: RULE, silent: true}));
COL_X.forEach(x => graphics.push({type: 'line', shape: {x1: x, y1: 6, x2: x, y2: 1663}, style: RULE, silent: true}));

const chart = echarts.init(document.getElementById('chart'), null, {renderer: 'canvas'});
chart.setOption({
  animation: false,
  backgroundColor: '#ffffff',
  grid: grids,
  xAxis: xAxes,
  yAxis: yAxes,
  legend: legends,
  series: series,
  graphic: {elements: graphics}
});
</script>
</body>
</html>
